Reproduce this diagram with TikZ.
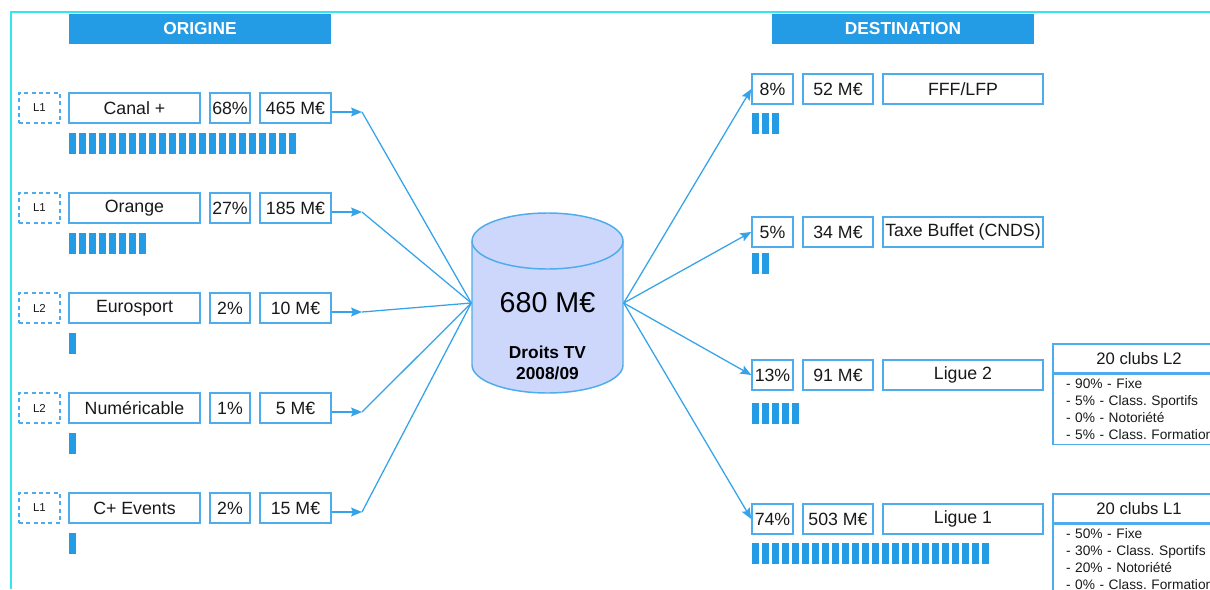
\documentclass[tikz,border=0pt]{standalone}
\usepackage{fontspec}
\setmainfont{Liberation Sans}
\usetikzlibrary{arrows.meta}
\definecolor{hdblue}{RGB}{36,155,229}
\definecolor{bxblue}{RGB}{78,172,236}
\definecolor{lnblue}{RGB}{52,163,233}
\definecolor{tkfill}{RGB}{204,215,251}
\definecolor{frcyan}{RGB}{52,228,240}
\newcommand{\pxu}{0.75pt}

\begin{document}
\frenchspacing
\begin{tikzpicture}[x=0.75pt,y=-0.75pt,line width=1.1pt,
    >={Stealth[length=11*\pxu,width=9*\pxu,inset=2*\pxu]},
    box/.style={draw=bxblue,fill=white,inner sep=0pt,minimum height=30*\pxu,
        text=black!90,font=\fontsize{13.3}{15}\selectfont},
    lbox/.style={box,dashed,dash pattern=on 3pt off 2.5pt,minimum width=41*\pxu,
        font=\fontsize{8.6}{10}\selectfont},
    namebox/.style={box,minimum width=131*\pxu},
    pctbox/.style={box,minimum width=40*\pxu},
    amtbox/.style={box,minimum width=71*\pxu},
    rnamebox/.style={box,minimum width=160*\pxu},
    ramtbox/.style={box,minimum width=70*\pxu},
    head/.style={fill=hdblue,text=white,inner sep=0pt,minimum width=262*\pxu,
        minimum height=30*\pxu,font=\fontsize{13}{15}\selectfont\bfseries},
    clubhead/.style={box,minimum width=172*\pxu,minimum height=29*\pxu,
        font=\fontsize{12.5}{14}\selectfont},
    clublist/.style={draw=bxblue,anchor=north west,align=left,inner xsep=13*\pxu,
        inner ysep=4.5*\pxu,text width=180*\pxu,
        text=black!90,font=\fontsize{10.3}{12.75}\selectfont},
    conn/.style={draw=lnblue,line width=0.95pt}]
    \clip (0,0) rectangle (1210,589);
    \draw[frcyan,line width=1.6pt] (11,589) -- (11,12) -- (1210,12);

    \node[head] (o) at (200,29) {ORIGINE};
    \node[head] (d) at (903,29) {DESTINATION};

    \node[lbox] (l1) at (39.5,108) {L1};
    \node[namebox] (n1) at (134.5,108) {Canal +};
    \node[pctbox] (p1) at (230,108) {68\%};
    \node[amtbox] (m1) at (295.5,108) {465 M€};

    \node[lbox] (l2) at (39.5,208) {L1};
    \node[namebox] (n2) at (134.5,208) {Orange};
    \node[pctbox] (p2) at (230,208) {27\%};
    \node[amtbox] (m2) at (295.5,208) {185 M€};

    \node[lbox] (l3) at (39.5,308) {L2};
    \node[namebox] (n3) at (134.5,308) {Eurosport};
    \node[pctbox] (p3) at (230,308) {2\%};
    \node[amtbox] (m3) at (295.5,308) {10 M€};

    \node[lbox] (l4) at (39.5,408) {L2};
    \node[namebox] (n4) at (134.5,408) {Numéricable};
    \node[pctbox] (p4) at (230,408) {1\%};
    \node[amtbox] (m4) at (295.5,408) {5 M€};

    \node[lbox] (l5) at (39.5,508) {L1};
    \node[namebox] (n5) at (134.5,508) {C+ Events};
    \node[pctbox] (p5) at (230,508) {2\%};
    \node[amtbox] (m5) at (295.5,508) {15 M€};

    \foreach \x/\y/\n in {69/133/23,69/233/8,69/333/1,69/433/1,69/533/1,
        752/113/3,752/253/2,752/403/5,752/543/24}
        \foreach \k in {1,...,\n}
            \fill[hdblue] (\x+10*\k-10,\y) rectangle ++(7,21);

    \fill[tkfill] (472,241) -- (472,365) arc[start angle=180,end angle=0,x radius=75.5,y radius=28]
        -- (623,241) -- cycle;
    \draw[bxblue] (472,241) -- (472,365) arc[start angle=180,end angle=0,x radius=75.5,y radius=28]
        -- (623,241);
    \draw[bxblue,fill=tkfill] (547.5,241) ellipse[x radius=75.5,y radius=28];
    \node[minimum width=151*\pxu,minimum height=180*\pxu,inner sep=0pt,
        font=\fontsize{21.5}{23}\selectfont] (tank) at (547.5,303) {680 M€};
    \node[align=center,font=\fontsize{13}{15.75}\selectfont\bfseries] (tv) at (547.5,363)
        {Droits TV\\2008/09};

    \node[pctbox,minimum width=41*\pxu] (q1) at (772.5,89) {8\%};
    \node[ramtbox] (a1) at (838,89) {52 M€};
    \node[rnamebox] (r1) at (963,89) {FFF/LFP};

    \node[pctbox,minimum width=41*\pxu] (q2) at (772.5,232) {5\%};
    \node[ramtbox] (a2) at (838,232) {34 M€};
    \node[rnamebox] (r2) at (963,232) {Taxe Buffet (CNDS)};

    \node[pctbox,minimum width=41*\pxu] (q3) at (772.5,375) {13\%};
    \node[ramtbox] (a3) at (838,375) {91 M€};
    \node[rnamebox] (r3) at (963,375) {Ligue 2};

    \node[pctbox,minimum width=41*\pxu] (q4) at (772.5,519) {74\%};
    \node[ramtbox] (a4) at (838,519) {503 M€};
    \node[rnamebox] (r4) at (963,519) {Ligue 1};

    \node[clubhead] (c2) at (1139,358.5) {20 clubs L2};
    \node[clublist] (c2l) at (c2.south west) {- 90\% - Fixe\\- 5\% - Class. Sportifs\\
        - 0\% - Notoriété\\- 5\% - Class. Formation};
    \node[clubhead] (c1) at (1139,508.5) {20 clubs L1};
    \node[clublist] (c1l) at (c1.south west) {- 50\% - Fixe\\- 30\% - Class. Sportifs\\
        - 20\% - Notoriété\\- 0\% - Class. Formation};

    \coordinate (k1) at (362,112);
    \coordinate (k2) at (362,212);
    \coordinate (k3) at (362,312);
    \coordinate (k4) at (362,412);
    \coordinate (k5) at (362,512);
    \foreach \i in {1,...,5} {
        \draw[conn,->] (m\i.east |- k\i) -- (k\i);
        \draw[conn] (k\i) -- (tank.west);
    }
    \foreach \i in {1,...,4}
        \draw[conn,->] (tank.east) -- (q\i.west);
\end{tikzpicture}
\end{document}
